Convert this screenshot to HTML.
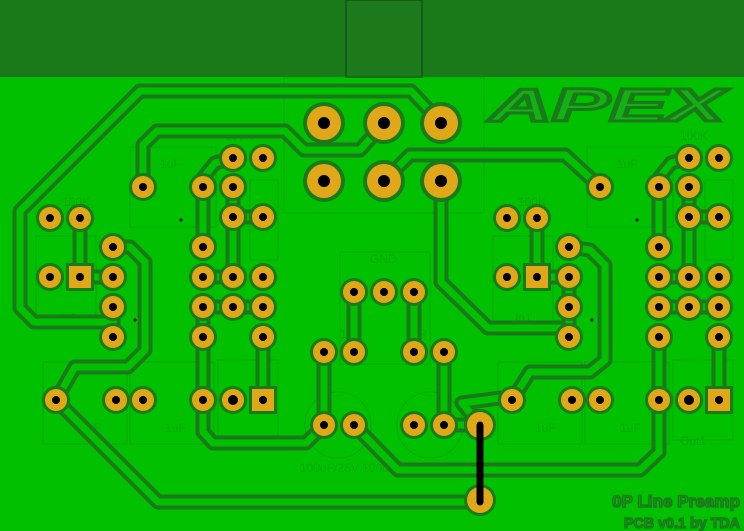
<!DOCTYPE html>
<html><head><meta charset="utf-8"><style>
html,body{margin:0;padding:0;background:#00c000;}
svg{display:block}
</style></head><body>
<svg width="744" height="531" viewBox="0 0 744 531" xmlns="http://www.w3.org/2000/svg">
<rect width="744" height="531" fill="#00c000"/>
<rect x="0" y="0" width="744" height="77" fill="#1a7a1a"/>
<rect x="346" y="0" width="76" height="77" fill="#1c7a1c" stroke="#145e14" stroke-width="2"/>
<g fill="none" stroke="#0a9a0a" stroke-width="1" opacity="0.6">
<rect x="284" y="77" width="200" height="136"/>
<rect x="130" y="147" width="86" height="80"/>
<rect x="587" y="147" width="86" height="80"/>
<rect x="340" y="252" width="90" height="112"/>
<rect x="43" y="362" width="84" height="82"/><rect x="130" y="362" width="84" height="82"/>
<rect x="498" y="362" width="84" height="82"/><rect x="585" y="362" width="84" height="82"/>
<rect x="218" y="360" width="60" height="80"/><rect x="673" y="360" width="60" height="80"/>
<rect x="36" y="236" width="60" height="90"/><rect x="493" y="236" width="60" height="90"/>
<rect x="250" y="180" width="28" height="80"/><rect x="705" y="180" width="28" height="80"/>
<circle cx="338" cy="425" r="33"/><circle cx="430" cy="425" r="33"/>
</g>
<g fill="#0a9a0a" font-family="Liberation Sans, sans-serif" font-size="12" opacity="0.6">
<text x="160" y="168">1uF</text><text x="617" y="168">1uF</text>
<text x="225" y="140">100K</text><text x="680" y="140">100K</text>
<text x="62" y="206">100K</text><text x="518" y="206">100K</text>
<text x="60" y="322">In2</text><text x="515" y="322">In1</text>
<text x="225" y="445">Out2</text><text x="680" y="445">Out1</text>
<text x="80" y="432">1uF</text><text x="165" y="432">1uF</text><text x="535" y="432">1uF</text><text x="620" y="432">1uF</text>
<text x="370" y="263">GND</text><text x="340" y="338">10R</text><text x="405" y="338">10R</text>
<text x="300" y="472">100uF/25V 100uF/25V</text>
</g>
<g fill="none" stroke-linejoin="round" stroke-linecap="round" stroke="#1a7a1a" stroke-width="15">
<path d="M441 123 L411 91 L140 91 L20 211 L20 308 L34 322 L113 322"/>
<path d="M143 187 L143 145 L157 131 L285 131 L304 150 L360 150 L384 123"/>
<path d="M384 181 L410 155 L565 155 L600 187"/>
<path d="M441 181 L441 282 L488 328 L560 328 L569 337"/>
<path d="M233 158 L215 163 L203 178 L203 247"/>
<path d="M233 187 L233 277 L203 277"/><path d="M233 217 L263 217"/>
<path d="M80 218 L80 277 L113 277"/>
<path d="M113 247 L130 247 L145 262 L145 350 L128 367 L75 367 L56 400"/>
<path d="M56 400 L158 502 L480 502"/>
<path d="M113 307 L113 337"/>
<path d="M203 307 L263 307"/><path d="M203 307 L203 337 L203 432 L213 443 L306 443 L324 425"/>
<path d="M263 337 L263 400"/>
<path d="M324 352 L324 425"/><path d="M354 352 L354 292"/><path d="M414 292 L414 352"/>
<path d="M444 352 L444 425 L480 425"/>
<path d="M354 425 L398 470 L640 470 L659 452 L659 337"/>
<path d="M569 247 L590 250 L605 265 L605 360 L590 372 L530 372 L512 400"/>
<path d="M689 158 L671 163 L659 178 L659 247"/>
<path d="M689 187 L689 277 L659 277"/><path d="M689 217 L719 217"/>
<path d="M537 218 L537 277 L569 277"/><path d="M569 277 L569 337"/>
<path d="M659 307 L719 307"/><path d="M719 337 L719 400"/>
<path d="M480 425 L462 403 L500 398 L512 400"/>
</g>
<g fill="none" stroke-linejoin="round" stroke-linecap="round" stroke="#00c000" stroke-width="7">
<path d="M441 123 L411 91 L140 91 L20 211 L20 308 L34 322 L113 322"/>
<path d="M143 187 L143 145 L157 131 L285 131 L304 150 L360 150 L384 123"/>
<path d="M384 181 L410 155 L565 155 L600 187"/>
<path d="M441 181 L441 282 L488 328 L560 328 L569 337"/>
<path d="M233 158 L215 163 L203 178 L203 247"/>
<path d="M233 187 L233 277 L203 277"/><path d="M233 217 L263 217"/>
<path d="M80 218 L80 277 L113 277"/>
<path d="M113 247 L130 247 L145 262 L145 350 L128 367 L75 367 L56 400"/>
<path d="M56 400 L158 502 L480 502"/>
<path d="M113 307 L113 337"/>
<path d="M203 307 L263 307"/><path d="M203 307 L203 337 L203 432 L213 443 L306 443 L324 425"/>
<path d="M263 337 L263 400"/>
<path d="M324 352 L324 425"/><path d="M354 352 L354 292"/><path d="M414 292 L414 352"/>
<path d="M444 352 L444 425 L480 425"/>
<path d="M354 425 L398 470 L640 470 L659 452 L659 337"/>
<path d="M569 247 L590 250 L605 265 L605 360 L590 372 L530 372 L512 400"/>
<path d="M689 158 L671 163 L659 178 L659 247"/>
<path d="M689 187 L689 277 L659 277"/><path d="M689 217 L719 217"/>
<path d="M537 218 L537 277 L569 277"/><path d="M569 277 L569 337"/>
<path d="M659 307 L719 307"/><path d="M719 337 L719 400"/>
<path d="M480 425 L462 403 L500 398 L512 400"/>
</g>
<text x="607" y="121" text-anchor="middle" font-family="Liberation Sans, sans-serif" font-weight="bold" font-style="italic" font-size="46" fill="#14b014" stroke="#1a7a1a" stroke-width="3" textLength="235" lengthAdjust="spacingAndGlyphs">APEX</text>
<g fill="#1a7a1a">
<circle cx="324" cy="123" r="21"/><circle cx="384" cy="123" r="21"/><circle cx="441" cy="123" r="21"/>
<circle cx="324" cy="181" r="21"/><circle cx="384" cy="181" r="21"/><circle cx="441" cy="181" r="21"/>
</g>
<g fill="#e0a818">
<circle cx="324" cy="123" r="17"/><circle cx="384" cy="123" r="17"/><circle cx="441" cy="123" r="17"/>
<circle cx="324" cy="181" r="17"/><circle cx="384" cy="181" r="17"/><circle cx="441" cy="181" r="17"/>
</g>
<g fill="#000">
<circle cx="324" cy="123" r="6"/><circle cx="384" cy="123" r="6"/><circle cx="441" cy="123" r="6"/>
<circle cx="324" cy="181" r="6"/><circle cx="384" cy="181" r="6"/><circle cx="441" cy="181" r="6"/>
</g>
<g fill="#1a7a1a">
<circle cx="143" cy="187" r="14"/><circle cx="203" cy="187" r="14"/><circle cx="233" cy="158" r="14"/><circle cx="263" cy="158" r="14"/><circle cx="233" cy="187" r="14"/><circle cx="233" cy="217" r="14"/><circle cx="263" cy="217" r="14"/><circle cx="50" cy="218" r="14"/><circle cx="80" cy="218" r="14"/><circle cx="113" cy="247" r="14"/><circle cx="50" cy="277" r="14"/><circle cx="113" cy="277" r="14"/><circle cx="113" cy="307" r="14"/><circle cx="113" cy="337" r="14"/><circle cx="203" cy="247" r="14"/><circle cx="203" cy="277" r="14"/><circle cx="233" cy="277" r="14"/><circle cx="263" cy="277" r="14"/><circle cx="203" cy="307" r="14"/><circle cx="233" cy="307" r="14"/><circle cx="263" cy="307" r="14"/><circle cx="203" cy="337" r="14"/><circle cx="263" cy="337" r="14"/><circle cx="56" cy="400" r="14"/><circle cx="116" cy="400" r="14"/><circle cx="143" cy="400" r="14"/><circle cx="203" cy="400" r="14"/><circle cx="233" cy="400" r="14"/><circle cx="324" cy="352" r="14"/><circle cx="354" cy="352" r="14"/><circle cx="354" cy="292" r="14"/><circle cx="384" cy="292" r="14"/><circle cx="414" cy="292" r="14"/><circle cx="414" cy="352" r="14"/><circle cx="444" cy="352" r="14"/><circle cx="324" cy="425" r="14"/><circle cx="354" cy="425" r="14"/><circle cx="414" cy="425" r="14"/><circle cx="444" cy="425" r="14"/><circle cx="480" cy="425" r="16"/><circle cx="480" cy="500" r="16"/>
<circle cx="600" cy="187" r="14"/><circle cx="659" cy="187" r="14"/><circle cx="689" cy="158" r="14"/><circle cx="719" cy="158" r="14"/><circle cx="689" cy="187" r="14"/><circle cx="689" cy="217" r="14"/><circle cx="719" cy="217" r="14"/><circle cx="507" cy="218" r="14"/><circle cx="537" cy="218" r="14"/><circle cx="569" cy="247" r="14"/><circle cx="507" cy="277" r="14"/><circle cx="569" cy="277" r="14"/><circle cx="569" cy="307" r="14"/><circle cx="569" cy="337" r="14"/><circle cx="659" cy="247" r="14"/><circle cx="659" cy="277" r="14"/><circle cx="689" cy="277" r="14"/><circle cx="719" cy="277" r="14"/><circle cx="659" cy="307" r="14"/><circle cx="689" cy="307" r="14"/><circle cx="719" cy="307" r="14"/><circle cx="659" cy="337" r="14"/><circle cx="719" cy="337" r="14"/><circle cx="512" cy="400" r="14"/><circle cx="572" cy="400" r="14"/><circle cx="600" cy="400" r="14"/><circle cx="659" cy="400" r="14"/><circle cx="689" cy="400" r="14"/>
<rect x="66" y="263" width="28" height="28"/><rect x="249" y="386" width="28" height="28"/><rect x="523" y="263" width="28" height="28"/><rect x="705" y="386" width="28" height="28"/>
</g>
<g fill="#e0a818">
<circle cx="143" cy="187" r="11"/><circle cx="203" cy="187" r="11"/><circle cx="233" cy="158" r="11"/><circle cx="263" cy="158" r="11"/><circle cx="233" cy="187" r="11"/><circle cx="233" cy="217" r="11"/><circle cx="263" cy="217" r="11"/><circle cx="50" cy="218" r="11"/><circle cx="80" cy="218" r="11"/><circle cx="113" cy="247" r="11"/><circle cx="50" cy="277" r="11"/><circle cx="113" cy="277" r="11"/><circle cx="113" cy="307" r="11"/><circle cx="113" cy="337" r="11"/><circle cx="203" cy="247" r="11"/><circle cx="203" cy="277" r="11"/><circle cx="233" cy="277" r="11"/><circle cx="263" cy="277" r="11"/><circle cx="203" cy="307" r="11"/><circle cx="233" cy="307" r="11"/><circle cx="263" cy="307" r="11"/><circle cx="203" cy="337" r="11"/><circle cx="263" cy="337" r="11"/><circle cx="56" cy="400" r="11"/><circle cx="116" cy="400" r="11"/><circle cx="143" cy="400" r="11"/><circle cx="203" cy="400" r="11"/><circle cx="233" cy="400" r="11"/><circle cx="324" cy="352" r="11"/><circle cx="354" cy="352" r="11"/><circle cx="354" cy="292" r="11"/><circle cx="384" cy="292" r="11"/><circle cx="414" cy="292" r="11"/><circle cx="414" cy="352" r="11"/><circle cx="444" cy="352" r="11"/><circle cx="324" cy="425" r="11"/><circle cx="354" cy="425" r="11"/><circle cx="414" cy="425" r="11"/><circle cx="444" cy="425" r="11"/><circle cx="480" cy="425" r="13"/><circle cx="480" cy="500" r="13"/>
<circle cx="600" cy="187" r="11"/><circle cx="659" cy="187" r="11"/><circle cx="689" cy="158" r="11"/><circle cx="719" cy="158" r="11"/><circle cx="689" cy="187" r="11"/><circle cx="689" cy="217" r="11"/><circle cx="719" cy="217" r="11"/><circle cx="507" cy="218" r="11"/><circle cx="537" cy="218" r="11"/><circle cx="569" cy="247" r="11"/><circle cx="507" cy="277" r="11"/><circle cx="569" cy="277" r="11"/><circle cx="569" cy="307" r="11"/><circle cx="569" cy="337" r="11"/><circle cx="659" cy="247" r="11"/><circle cx="659" cy="277" r="11"/><circle cx="689" cy="277" r="11"/><circle cx="719" cy="277" r="11"/><circle cx="659" cy="307" r="11"/><circle cx="689" cy="307" r="11"/><circle cx="719" cy="307" r="11"/><circle cx="659" cy="337" r="11"/><circle cx="719" cy="337" r="11"/><circle cx="512" cy="400" r="11"/><circle cx="572" cy="400" r="11"/><circle cx="600" cy="400" r="11"/><circle cx="659" cy="400" r="11"/><circle cx="689" cy="400" r="11"/>
<rect x="69" y="266" width="22" height="22"/><rect x="252" y="389" width="22" height="22"/><rect x="526" y="266" width="22" height="22"/><rect x="708" y="389" width="22" height="22"/>
</g>
<g fill="#000">
<circle cx="143" cy="187" r="4"/><circle cx="203" cy="187" r="4"/><circle cx="233" cy="158" r="4"/><circle cx="263" cy="158" r="4"/><circle cx="233" cy="187" r="4"/><circle cx="233" cy="217" r="4"/><circle cx="263" cy="217" r="4"/><circle cx="50" cy="218" r="4"/><circle cx="80" cy="218" r="4"/><circle cx="113" cy="247" r="4"/><circle cx="50" cy="277" r="4"/><circle cx="80" cy="277" r="4"/><circle cx="113" cy="277" r="4"/><circle cx="113" cy="307" r="4"/><circle cx="113" cy="337" r="4"/><circle cx="203" cy="247" r="4"/><circle cx="203" cy="277" r="4"/><circle cx="233" cy="277" r="4"/><circle cx="263" cy="277" r="4"/><circle cx="203" cy="307" r="4"/><circle cx="233" cy="307" r="4"/><circle cx="263" cy="307" r="4"/><circle cx="203" cy="337" r="4"/><circle cx="263" cy="337" r="4"/><circle cx="56" cy="400" r="4"/><circle cx="116" cy="400" r="4"/><circle cx="143" cy="400" r="4"/><circle cx="203" cy="400" r="4"/><circle cx="233" cy="400" r="5"/><circle cx="263" cy="400" r="4"/><circle cx="324" cy="352" r="4"/><circle cx="354" cy="352" r="4"/><circle cx="354" cy="292" r="4"/><circle cx="384" cy="292" r="4"/><circle cx="414" cy="292" r="4"/><circle cx="414" cy="352" r="4"/><circle cx="444" cy="352" r="4"/><circle cx="324" cy="425" r="4"/><circle cx="354" cy="425" r="4"/><circle cx="414" cy="425" r="4"/><circle cx="444" cy="425" r="4"/>
<circle cx="600" cy="187" r="4"/><circle cx="659" cy="187" r="4"/><circle cx="689" cy="158" r="4"/><circle cx="719" cy="158" r="4"/><circle cx="689" cy="187" r="4"/><circle cx="689" cy="217" r="4"/><circle cx="719" cy="217" r="4"/><circle cx="507" cy="218" r="4"/><circle cx="537" cy="218" r="4"/><circle cx="569" cy="247" r="4"/><circle cx="507" cy="277" r="4"/><circle cx="537" cy="277" r="4"/><circle cx="569" cy="277" r="4"/><circle cx="569" cy="307" r="4"/><circle cx="569" cy="337" r="4"/><circle cx="659" cy="247" r="4"/><circle cx="659" cy="277" r="4"/><circle cx="689" cy="277" r="4"/><circle cx="719" cy="277" r="4"/><circle cx="659" cy="307" r="4"/><circle cx="689" cy="307" r="4"/><circle cx="719" cy="307" r="4"/><circle cx="659" cy="337" r="4"/><circle cx="719" cy="337" r="4"/><circle cx="512" cy="400" r="4"/><circle cx="572" cy="400" r="4"/><circle cx="600" cy="400" r="4"/><circle cx="659" cy="400" r="4"/><circle cx="689" cy="400" r="5"/><circle cx="719" cy="400" r="4"/>
<circle cx="135" cy="320" r="1.5"/><circle cx="181" cy="220" r="1.5"/><circle cx="592" cy="320" r="1.5"/><circle cx="637" cy="220" r="1.5"/>
</g>
<line x1="480" y1="425" x2="480" y2="502" stroke="#000" stroke-width="7" stroke-linecap="round"/>
<g font-family="Liberation Sans, sans-serif" font-weight="bold" fill="#10a810" stroke="#1a7a1a" stroke-width="1.5">
<text x="740" y="507" text-anchor="end" font-size="17" textLength="128" lengthAdjust="spacingAndGlyphs">0P Line Preamp</text>
<text x="740" y="528" text-anchor="end" font-size="15" textLength="116" lengthAdjust="spacingAndGlyphs">PCB v0.1 by TDA</text>
</g>
</svg>
</body></html>
